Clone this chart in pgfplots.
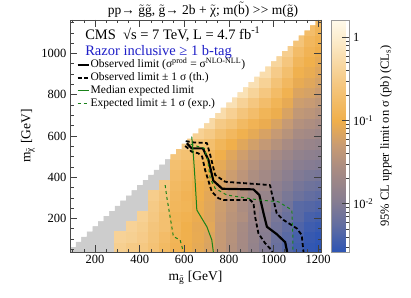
\documentclass[border=0pt]{standalone}
\usepackage{amsmath}
\usepackage{fontspec}
\setmainfont{Liberation Serif}
\usepackage{pgfplots}
\pgfplotsset{compat=1.18}
\newcommand\tl[1]{\ensuremath{\tilde{\text{#1}}}}
\definecolor{razorblue}{RGB}{30,30,200}
\definecolor{expgreen}{RGB}{25,130,25}
\definecolor{nodata}{RGB}{205,205,205}
\begin{document}
\begin{tikzpicture}
\useasboundingbox (0,0) rectangle (411pt,297pt);
\begin{axis}[
  at={(70pt,45pt)}, anchor=south west,
  width=251pt, height=232pt, scale only axis,
  xmin=87.5, xmax=1212.5, ymin=37.5, ymax=1162.5,
  axis on top, clip marker paths=true,
  xtick={200,400,600,800,1000,1200},
  ytick={200,400,600,800,1000},
  minor xtick={100,150,...,1200},
  minor ytick={50,100,...,1150},
  tick align=inside, major tick length=7pt, minor tick length=3.5pt,
  tick style={black!75, line width=0.7pt},
  axis line style={black!70, line width=0.8pt},
  /pgf/number format/assume math mode=true,
  /pgf/number format/1000 sep={},
  tick label style={font=\fontsize{12.5}{14}\selectfont},
  xlabel={m\textsubscript{\tl{g}} [GeV]},
  ylabel={m\textsubscript{\tl{χ}} [GeV]},
  label style={font=\fontsize{13.5}{15}\selectfont},
  title={pp→ \tl{g}\tl{g}, \tl{g}→ 2b + \tl{χ}; m(\tl{b}) >\kern0.5pt> m(\tl{g})},
  every axis title/.style={at={(0.53,1)}, anchor=base, yshift=5pt, font=\fontsize{13.5}{15}\selectfont},
  colormap={cms}{rgb255(0pt)=(45,85,180); rgb255(34pt)=(100,110,160); rgb255(62pt)=(135,125,145); rgb255(101pt)=(170,140,130); rgb255(128pt)=(200,155,115); rgb255(158pt)=(240,175,75); rgb255(203pt)=(245,200,130); rgb255(258pt)=(252,238,208); rgb255(279pt)=(255,250,235)},
  point meta min=-2.58, point meta max=0.21,
  colorbar,
  colorbar style={
    at={(parent axis.north east)}, anchor=north west, xshift=2pt,
    width=18pt, height=232pt, scale only axis,
    ytick={-2,-1,0},
    yticklabels={10\textsuperscript{-2},10\textsuperscript{-1},1},
    minor ytick={-2.523,-2.398,-2.301,-2.222,-2.155,-2.097,-2.046,-1.699,-1.523,-1.398,-1.301,-1.222,-1.155,-1.097,-1.046,-0.699,-0.523,-0.398,-0.301,-0.222,-0.155,-0.097,-0.046},
    tick align=inside, ytick pos=right, yticklabel pos=right,
    major tick length=8pt, minor tick length=4pt,
    tick style={black!75, line width=0.6pt},
    axis line style={black!40},
    yticklabel style={font=\fontsize{12.5}{14}\selectfont},
    ylabel={95\% CL upper limit on σ (pb) (CL\textsubscript{s})},
    ylabel style={font=\fontsize{12.5}{14}\selectfont},
  },
  legend style={at={(0.025,0.835)}, anchor=north west, draw=none, fill=none,
    font=\fontsize{11.5}{12}\selectfont, row sep=0pt, inner sep=0pt,
    nodes={inner sep=1pt, text height=8pt, text depth=3pt}},
  legend cell align=left,
  legend image code/.code={\draw[#1] (0pt,0pt) -- (11pt,0pt);},
]
% no-result region
\addplot[const plot, fill=nodata, draw=none, forget plot] coordinates {
(87.5,37.5) (87.5,62.5) (112.5,87.5) (137.5,112.5) (162.5,137.5) (187.5,162.5) (212.5,187.5) (237.5,212.5) (262.5,237.5) (287.5,262.5) (312.5,287.5) (337.5,312.5) (362.5,337.5) (387.5,362.5) (412.5,387.5) (437.5,412.5) (462.5,437.5) (487.5,462.5) (512.5,487.5) (537.5,512.5) (562.5,537.5) (587.5,562.5) (612.5,587.5) (637.5,612.5) (662.5,612.5) (662.5,37.5)};
% cross-section upper limits, log10(sigma/pb)
\addplot[scatter, only marks, mark=square*, mark size=5.65pt,
  mark options={yscale=0.92},
  scatter/use mapped color={draw=mapped color, fill=mapped color},
  point meta=\thisrow{l}, forget plot] table[x=x, y=y] {
x y l
312.5 62.5 -0.45
312.5 112.5 -0.40
362.5 62.5 -0.52
362.5 112.5 -0.44
362.5 162.5 -0.40
412.5 62.5 -0.55
412.5 112.5 -0.50
412.5 162.5 -0.47
412.5 212.5 -0.42
462.5 62.5 -0.66
462.5 112.5 -0.62
462.5 162.5 -0.60
462.5 212.5 -0.55
462.5 262.5 -0.52
462.5 312.5 -0.48
512.5 62.5 -0.80
512.5 112.5 -0.76
512.5 162.5 -0.70
512.5 212.5 -0.70
512.5 262.5 -0.66
512.5 312.5 -0.60
512.5 362.5 -0.55
562.5 62.5 -0.92
562.5 112.5 -0.90
562.5 162.5 -0.88
562.5 212.5 -0.90
562.5 262.5 -0.86
562.5 312.5 -0.84
562.5 362.5 -0.80
562.5 412.5 -0.76
562.5 462.5 -0.70
562.5 512.5 -0.60
612.5 62.5 -1.00
612.5 112.5 -0.98
612.5 162.5 -0.99
612.5 212.5 -0.95
612.5 262.5 -0.90
612.5 312.5 -0.92
612.5 362.5 -0.88
612.5 412.5 -0.84
612.5 462.5 -0.77
612.5 512.5 -0.68
612.5 562.5 -0.50
662.5 62.5 -1.08
662.5 112.5 -1.06
662.5 162.5 -1.07
662.5 212.5 -1.04
662.5 262.5 -1.03
662.5 312.5 -1.00
662.5 362.5 -1.00
662.5 412.5 -0.92
662.5 462.5 -0.86
662.5 512.5 -0.76
662.5 562.5 -0.62
662.5 612.5 -0.42
712.5 62.5 -1.17
712.5 112.5 -1.15
712.5 162.5 -1.10
712.5 212.5 -1.13
712.5 262.5 -1.12
712.5 312.5 -1.10
712.5 362.5 -1.06
712.5 412.5 -1.02
712.5 462.5 -0.95
712.5 512.5 -0.85
712.5 562.5 -0.71
712.5 612.5 -0.52
712.5 662.5 -0.30
762.5 62.5 -1.33
762.5 112.5 -1.32
762.5 162.5 -1.31
762.5 212.5 -1.28
762.5 262.5 -1.26
762.5 312.5 -1.22
762.5 362.5 -1.19
762.5 412.5 -1.14
762.5 462.5 -1.08
762.5 512.5 -1.00
762.5 562.5 -0.88
762.5 612.5 -0.70
762.5 662.5 -0.52
762.5 712.5 -0.26
812.5 62.5 -1.48
812.5 112.5 -1.46
812.5 162.5 -1.45
812.5 212.5 -1.43
812.5 262.5 -1.39
812.5 312.5 -1.37
812.5 362.5 -1.32
812.5 412.5 -1.27
812.5 462.5 -1.20
812.5 512.5 -1.13
812.5 562.5 -1.00
812.5 612.5 -0.84
812.5 662.5 -0.63
812.5 712.5 -0.43
812.5 762.5 -0.20
862.5 62.5 -1.63
862.5 112.5 -1.62
862.5 162.5 -1.60
862.5 212.5 -1.52
862.5 262.5 -1.55
862.5 312.5 -1.51
862.5 362.5 -1.46
862.5 412.5 -1.40
862.5 462.5 -1.33
862.5 512.5 -1.25
862.5 562.5 -1.12
862.5 612.5 -0.97
862.5 662.5 -0.80
862.5 712.5 -0.60
862.5 762.5 -0.40
862.5 812.5 -0.18
912.5 62.5 -1.81
912.5 112.5 -1.79
912.5 162.5 -1.77
912.5 212.5 -1.74
912.5 262.5 -1.70
912.5 312.5 -1.65
912.5 362.5 -1.60
912.5 412.5 -1.54
912.5 462.5 -1.46
912.5 512.5 -1.38
912.5 562.5 -1.23
912.5 612.5 -1.08
912.5 662.5 -0.92
912.5 712.5 -0.74
912.5 762.5 -0.57
912.5 812.5 -0.38
912.5 862.5 -0.20
962.5 62.5 -1.99
962.5 112.5 -1.96
962.5 162.5 -1.93
962.5 212.5 -1.89
962.5 262.5 -1.84
962.5 312.5 -1.78
962.5 362.5 -1.68
962.5 412.5 -1.65
962.5 462.5 -1.58
962.5 512.5 -1.49
962.5 562.5 -1.34
962.5 612.5 -1.19
962.5 662.5 -1.04
962.5 712.5 -0.89
962.5 762.5 -0.74
962.5 812.5 -0.57
962.5 862.5 -0.41
962.5 912.5 -0.25
1012.5 62.5 -2.20
1012.5 112.5 -2.17
1012.5 162.5 -2.13
1012.5 212.5 -2.07
1012.5 262.5 -2.01
1012.5 312.5 -1.94
1012.5 362.5 -1.87
1012.5 412.5 -1.79
1012.5 462.5 -1.71
1012.5 512.5 -1.62
1012.5 562.5 -1.47
1012.5 612.5 -1.32
1012.5 662.5 -1.17
1012.5 712.5 -1.02
1012.5 762.5 -0.90
1012.5 812.5 -0.77
1012.5 862.5 -0.64
1012.5 912.5 -0.50
1012.5 962.5 -0.36
1062.5 62.5 -2.33
1062.5 112.5 -2.30
1062.5 162.5 -2.25
1062.5 212.5 -2.19
1062.5 262.5 -2.13
1062.5 312.5 -2.06
1062.5 362.5 -1.98
1062.5 412.5 -1.90
1062.5 462.5 -1.82
1062.5 512.5 -1.73
1062.5 562.5 -1.59
1062.5 612.5 -1.45
1062.5 662.5 -1.32
1062.5 712.5 -1.18
1062.5 762.5 -1.07
1062.5 812.5 -0.95
1062.5 862.5 -0.83
1062.5 912.5 -0.71
1062.5 962.5 -0.58
1062.5 1012.5 -0.46
1112.5 62.5 -2.45
1112.5 112.5 -2.42
1112.5 162.5 -2.37
1112.5 212.5 -2.31
1112.5 262.5 -2.30
1112.5 312.5 -2.17
1112.5 362.5 -2.09
1112.5 412.5 -2.01
1112.5 462.5 -1.93
1112.5 512.5 -1.84
1112.5 562.5 -1.72
1112.5 612.5 -1.60
1112.5 662.5 -1.48
1112.5 712.5 -1.36
1112.5 762.5 -1.26
1112.5 812.5 -1.16
1112.5 862.5 -1.06
1112.5 912.5 -0.97
1112.5 962.5 -0.87
1112.5 1012.5 -0.76
1112.5 1062.5 -0.62
1162.5 62.5 -2.55
1162.5 112.5 -2.52
1162.5 162.5 -2.47
1162.5 212.5 -2.41
1162.5 262.5 -2.33
1162.5 312.5 -2.24
1162.5 362.5 -2.15
1162.5 412.5 -2.06
1162.5 462.5 -1.97
1162.5 512.5 -1.88
1162.5 562.5 -1.77
1162.5 612.5 -1.65
1162.5 662.5 -1.53
1162.5 712.5 -1.41
1162.5 762.5 -1.30
1162.5 812.5 -1.20
1162.5 862.5 -1.12
1162.5 912.5 -1.05
1162.5 962.5 -0.99
1162.5 1012.5 -0.92
1162.5 1062.5 -0.85
1162.5 1112.5 -0.75
1212.5 62.5 -2.58
1212.5 112.5 -2.56
1212.5 162.5 -2.51
1212.5 212.5 -2.45
1212.5 262.5 -2.37
1212.5 312.5 -2.28
1212.5 362.5 -2.18
1212.5 412.5 -2.09
1212.5 462.5 -2.00
1212.5 512.5 -1.91
1212.5 562.5 -1.81
1212.5 612.5 -1.71
1212.5 662.5 -1.59
1212.5 712.5 -1.48
1212.5 762.5 -1.38
1212.5 812.5 -1.28
1212.5 862.5 -1.20
1212.5 912.5 -1.13
1212.5 962.5 -1.07
1212.5 1012.5 -1.01
1212.5 1062.5 -0.95
1212.5 1112.5 -0.89
1212.5 1162.5 -0.82
};
% kinematically forbidden region (white)
\addplot[const plot, fill=white, draw=none, forget plot] coordinates {
(87.5,62.5) (112.5,87.5) (137.5,112.5) (162.5,137.5) (187.5,162.5) (212.5,187.5) (237.5,212.5) (262.5,237.5) (287.5,262.5) (312.5,287.5) (337.5,312.5) (362.5,337.5) (387.5,362.5) (412.5,387.5) (437.5,412.5) (462.5,437.5) (487.5,462.5) (512.5,487.5) (537.5,512.5) (562.5,537.5) (587.5,562.5) (612.5,587.5) (637.5,612.5) (662.5,637.5) (687.5,662.5) (712.5,687.5) (737.5,712.5) (762.5,737.5) (787.5,762.5) (812.5,787.5) (837.5,812.5) (862.5,837.5) (887.5,862.5) (912.5,887.5) (937.5,912.5) (962.5,937.5) (987.5,962.5) (1012.5,987.5) (1037.5,1012.5) (1062.5,1037.5) (1087.5,1062.5) (1112.5,1087.5) (1137.5,1112.5) (1162.5,1137.5) (1187.5,1162.5) (1212.5,1162.5) (1212.5,1200) (87.5,1200)};
% observed limit
\addplot[black, line width=2.2pt, line join=round] coordinates {
(611,565) (633,540) (683,540) (708,484) (730,383) (770,344) (910,341) (936,314) (955,225) (970,160) (1014,124) (1052,85) (1059,47) (1060,37.5)};
\addlegendentry{Observed limit (σ\textsuperscript{prod} = σ\textsuperscript{NLO-NLL})}
\addplot[black, line width=1.8pt, dash pattern=on 4pt off 2.5pt, line join=round] coordinates {
(606,575) (641,569) (701,566) (716,508) (738,411) (783,378) (984,362) (992,322) (1014,225) (1044,193) (1104,152) (1126,120) (1134,37.5)};
\addlegendentry{Observed limit ± 1 σ (th.)}
\addplot[black, line width=1.8pt, dash pattern=on 4pt off 2.5pt, line join=round, forget plot] coordinates {
(604,552) (633,524) (663,516) (680,500) (693,435) (723,330) (753,298) (775,290) (895,290) (910,274) (917,209) (932,128) (962,80) (992,45) (995,37.5)};
\addplot[expgreen, line width=1pt] coordinates {
(633,597) (641,500) (648,387) (656,241) (678,201) (701,160) (723,96) (730,37.5)};
\addlegendentry{Median expected limit}
\addplot[expgreen, line width=1pt, dash pattern=on 3pt off 3pt] coordinates {
(514,362) (521,306) (536,209) (551,112) (581,96) (596,37.5)};
\addlegendentry{Expected limit ± 1 σ (exp.)}
\addplot[expgreen, line width=1pt, dash pattern=on 3pt off 3pt, forget plot] coordinates {
(628,560) (690,540) (705,480) (716,395) (738,346) (790,314) (932,290) (1022,281) (1082,241) (1086,128) (1086,37.5)};
\node[anchor=base west, font=\fontsize{14.5}{16}\selectfont, inner sep=0pt] at (rel axis cs:0.06,0.918) {CMS\ \ √s = 7 TeV, L = 4.7 fb\textsuperscript{-1}};
\node[anchor=base west, font=\fontsize{14.5}{16}\selectfont, inner sep=0pt, text=razorblue] at (rel axis cs:0.06,0.849) {Razor inclusive ≥ 1 b-tag};
\end{axis}
\end{tikzpicture}
\end{document}
